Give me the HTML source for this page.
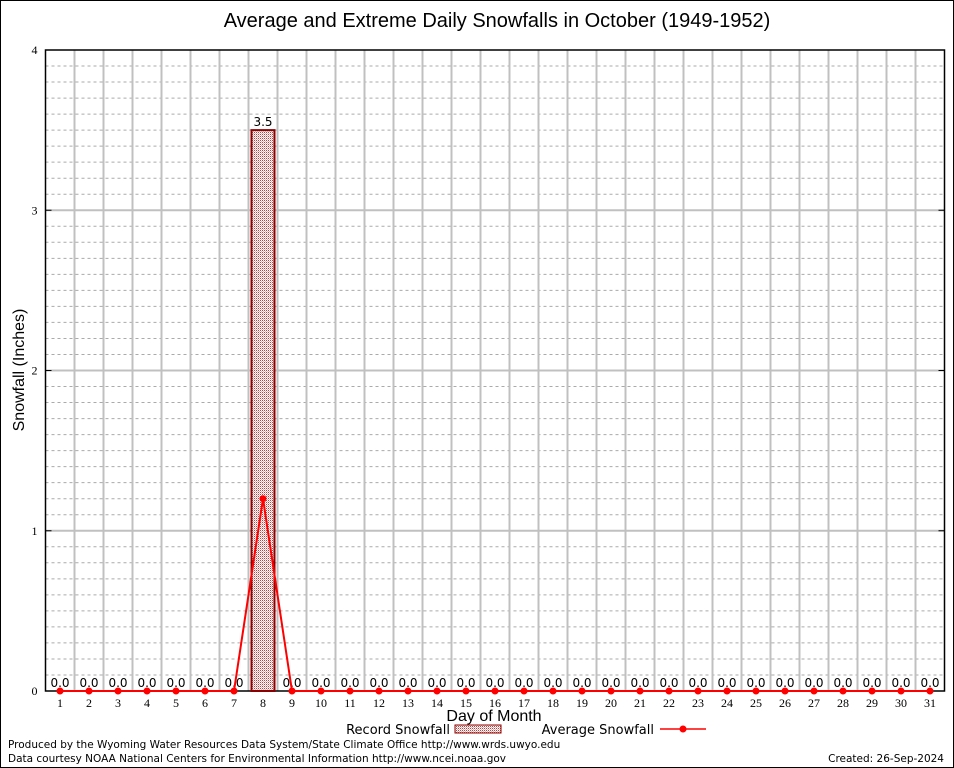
<!DOCTYPE html>
<html><head><meta charset="utf-8"><style>
body{margin:0;background:#fff;}
svg{display:block;font-family:"Liberation Sans",sans-serif;}
</style></head><body>
<svg id="c" width="954" height="768" xmlns="http://www.w3.org/2000/svg">
<defs>
<pattern id="hatch" width="2" height="2" patternUnits="userSpaceOnUse">
<rect width="2" height="2" fill="#fff"/><rect width="1" height="1" fill="#c04040"/><rect x="1" y="1" width="1" height="1" fill="#e8b0b0"/>
</pattern>
</defs>
<rect x="0.5" y="0.5" width="953" height="767" fill="#fff" stroke="#000"/>
<text x="497" y="27" font-size="20" text-anchor="middle">Average and Extreme Daily Snowfalls in October (1949-1952)</text>
<g id="grid"></g>
<g id="marks"></g>
<text transform="translate(24,370) rotate(-90)" font-size="16" text-anchor="middle">Snowfall (Inches)</text>
<text x="494" y="721" font-size="16" text-anchor="middle">Day of Month</text>
<g font-family="DejaVu Sans, sans-serif">
<text x="450" y="734" font-size="13" text-anchor="end">Record Snowfall</text>
<rect x="455" y="725" width="46" height="8" fill="url(#hatch)" stroke="#8b0000"/>
<text x="654" y="734" font-size="13" text-anchor="end">Average Snowfall</text>
<line x1="660" y1="729" x2="706" y2="729" stroke="red" stroke-width="1.5"/>
<circle cx="683" cy="729" r="3.5" fill="red"/>
</g>
<g font-family="DejaVu Sans, sans-serif" font-size="10.5">
<text x="8" y="748">Produced by the Wyoming Water Resources Data System/State Climate Office http://www.wrds.uwyo.edu</text>
<text x="8" y="762">Data courtesy NOAA National Centers for Environmental Information http://www.ncei.noaa.gov</text>
<text x="944" y="762" text-anchor="end">Created:  26-Sep-2024</text>
</g>
</svg>
<script>
const days=[1,2,3,4,5,6,7,8,9,10,11,12,13,14,15,16,17,18,19,20,21,22,23,24,25,26,27,28,29,30,31];
const recordSnow=[0,0,0,0,0,0,0,3.5,0,0,0,0,0,0,0,0,0,0,0,0,0,0,0,0,0,0,0,0,0,0,0];
const avgSnow=[0,0,0,0,0,0,0,1.2,0,0,0,0,0,0,0,0,0,0,0,0,0,0,0,0,0,0,0,0,0,0,0];
const yTicks=[0,1,2,3,4];
const NS="http://www.w3.org/2000/svg";
const L=45.5,R=944.5,T=50,B=691,yMax=4;
const step=(R-L)/days.length;
const xS=d=>L+(d-0.5)*step;
const yS=v=>B-(v/yMax)*(B-T);
function mk(tag,attrs,parent,txt){const e=document.createElementNS(NS,tag);for(const k in attrs)e.setAttribute(k,attrs[k]);if(txt!==undefined)e.textContent=txt;parent.appendChild(e);return e;}
const grid=document.getElementById('grid'),marks=document.getElementById('marks');
for(let v=0.1;v<yMax;v+=0.1){if(Math.abs(v-Math.round(v))<0.01)continue;
 const e=mk('line',{x1:L,x2:R,y1:yS(v),y2:yS(v),stroke:'#aaa','stroke-dasharray':'3,3'},grid);
 
 }
for(let i=1;i<days.length;i++){const x=L+i*step;
 const e=mk('line',{x1:x,x2:x,y1:T,y2:B,stroke:'#c0c0c0','stroke-width':2},grid);
 
 }
yTicks.forEach(v=>{const y=yS(v);
 if(v>0&&v<yMax){const g=mk('line',{x1:L,x2:R,y1:y,y2:y,stroke:'#c0c0c0','stroke-width':2},grid);
  
  }
 const t=mk('text',{x:L-8,y:y+4,'font-size':12,'text-anchor':'end','font-family':'Liberation Serif'},grid,String(v));
 
 
 mk('line',{x1:L,x2:L+6,y1:y,y2:y,stroke:'#000'},grid);
 mk('line',{x1:R-6,x2:R,y1:y,y2:y,stroke:'#000'},grid);});
const fr=mk('rect',{x:L,y:T,width:R-L,height:B-T,fill:'none',stroke:'#000','stroke-width':1.5},grid);


days.forEach((d,i)=>{
 const x=xS(d);
 const t=mk('text',{x:x,y:B+16,'font-size':12,'text-anchor':'middle','font-family':'Liberation Serif'},grid,String(d));
 
 
 if(recordSnow[i]>0){
  const r=mk('rect',{x:x-11.5,y:yS(recordSnow[i]),width:23,height:B-yS(recordSnow[i]),fill:'url(#hatch)',stroke:'#8b0000','stroke-width':2},marks);
  
  
 }
 const lb=mk('text',{x:x,y:yS(recordSnow[i])-4,'font-size':12,'text-anchor':'middle','font-family':'DejaVu Sans'},marks,recordSnow[i].toFixed(1));
 
 
});
const pts=days.map((d,i)=>xS(d)+','+yS(avgSnow[i])).join(' ');
const pl=mk('polyline',{points:pts,fill:'none',stroke:'red','stroke-width':2},marks);


days.forEach((d,i)=>{const c=mk('circle',{cx:xS(d),cy:yS(avgSnow[i]),r:3.5,fill:'red'},marks);
 
 });
</script>
</body></html>
